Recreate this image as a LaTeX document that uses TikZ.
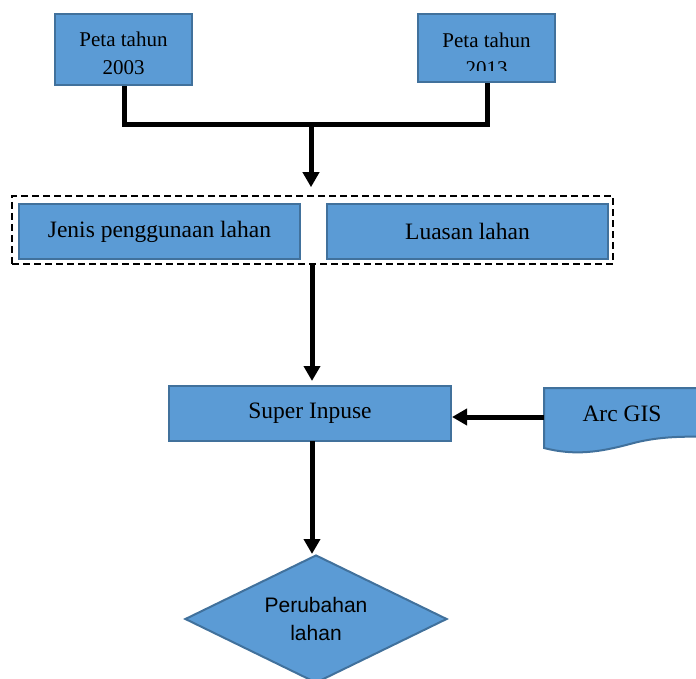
\documentclass[tikz,border=0pt]{standalone}
\usepackage{fontspec}
\setmainfont{Liberation Serif}
\newfontfamily\arialfont{Liberation Sans}
\usetikzlibrary{shapes.geometric,arrows.meta}
\definecolor{boxfill}{RGB}{91,155,213}
\definecolor{boxline}{RGB}{65,113,156}
\tikzset{
  bluebox/.style={draw=boxline, fill=boxfill, line width=2pt, inner sep=0pt, align=center},
  conn/.style={draw=black, line width=5pt},
  arr/.style={conn, -{Triangle[length=15pt,width=16pt]}},
  grpbox/.style={draw=black, line width=1.6pt, dash pattern=on 7pt off 4pt, inner sep=0pt}
}
\begin{document}
\begin{tikzpicture}[x=1pt,y=-1pt]
\useasboundingbox (0,0) rectangle (696,679);
\clip (0,0) rectangle (696,679);
% top boxes
\node[bluebox, minimum width=137pt, minimum height=71pt] (b1) at (123.5,50) {};
\node[inner sep=0pt, align=center, font=\fontsize{21}{28}\selectfont] (b1t) at (123.5,53) {Peta tahun\\2003};
\node[bluebox, minimum width=137pt, minimum height=68pt] (b2) at (486.5,48) {};
\begin{scope}
  \clip (418,14) rectangle (555,70.5);
  \node[inner sep=0pt, align=center, font=\fontsize{21}{28}\selectfont] (b2t) at (486.5,54) {Peta tahun\\2013};
\end{scope}
% group
\node[grpbox, minimum width=601pt, minimum height=68pt] (grp) at (312.5,230) {};
\node[bluebox, minimum width=281pt, minimum height=55pt, font=\fontsize{23.5}{28}\selectfont] (jenis) at (159.5,231.5) {Jenis penggunaan lahan};
\node[bluebox, minimum width=281pt, minimum height=55pt, font=\fontsize{23.5}{28}\selectfont] (luas) at (467.5,231.5) {Luasan lahan};
% super inpuse
\node[bluebox, minimum width=282pt, minimum height=55pt, font=\fontsize{23.5}{28}\selectfont] (super) at (310,413.5) {Super Inpuse};
% Arc GIS document shape
\path[draw=boxline, fill=boxfill, line width=2pt]
  (544,388) -- (710,388) -- (710,437)
  .. controls (680,436) and (655,437) .. (630,444)
  .. controls (600,452) and (575,456) .. (544,448) -- cycle;
\node[inner sep=0pt, font=\fontsize{23.5}{28}\selectfont] (arc) at (622,414) {Arc GIS};
\coordinate (arcw) at (544,417);
% diamond
\node[diamond, aspect=2, draw=boxline, fill=boxfill, line width=2pt, inner sep=0pt,
      minimum width=262pt, minimum height=128pt, align=center,
      font=\arialfont\fontsize{21}{28}\selectfont] (dia) at (316,619) {Perubahan\\lahan};
% connectors
\coordinate (jl) at (124,124.5);
\coordinate (jr) at (487,124.5);
\coordinate (jm) at (311,124.5);
\draw[conn, line join=miter] (b1.south -| jl) -- (jl) -- (jr) -- (b2.south -| jr);
\draw[arr, shorten >=8pt] (jm) -- (jm |- grp.north);
\coordinate (g1) at (312,265);
\draw[arr, shorten >=4pt] (g1) -- (g1 |- super.north);
\draw[arr] (arcw) -- (super.east |- arcw);
\coordinate (s1) at (312,441);
\draw[arr] (s1) -- (s1 |- dia.north);
\end{tikzpicture}
\end{document}
